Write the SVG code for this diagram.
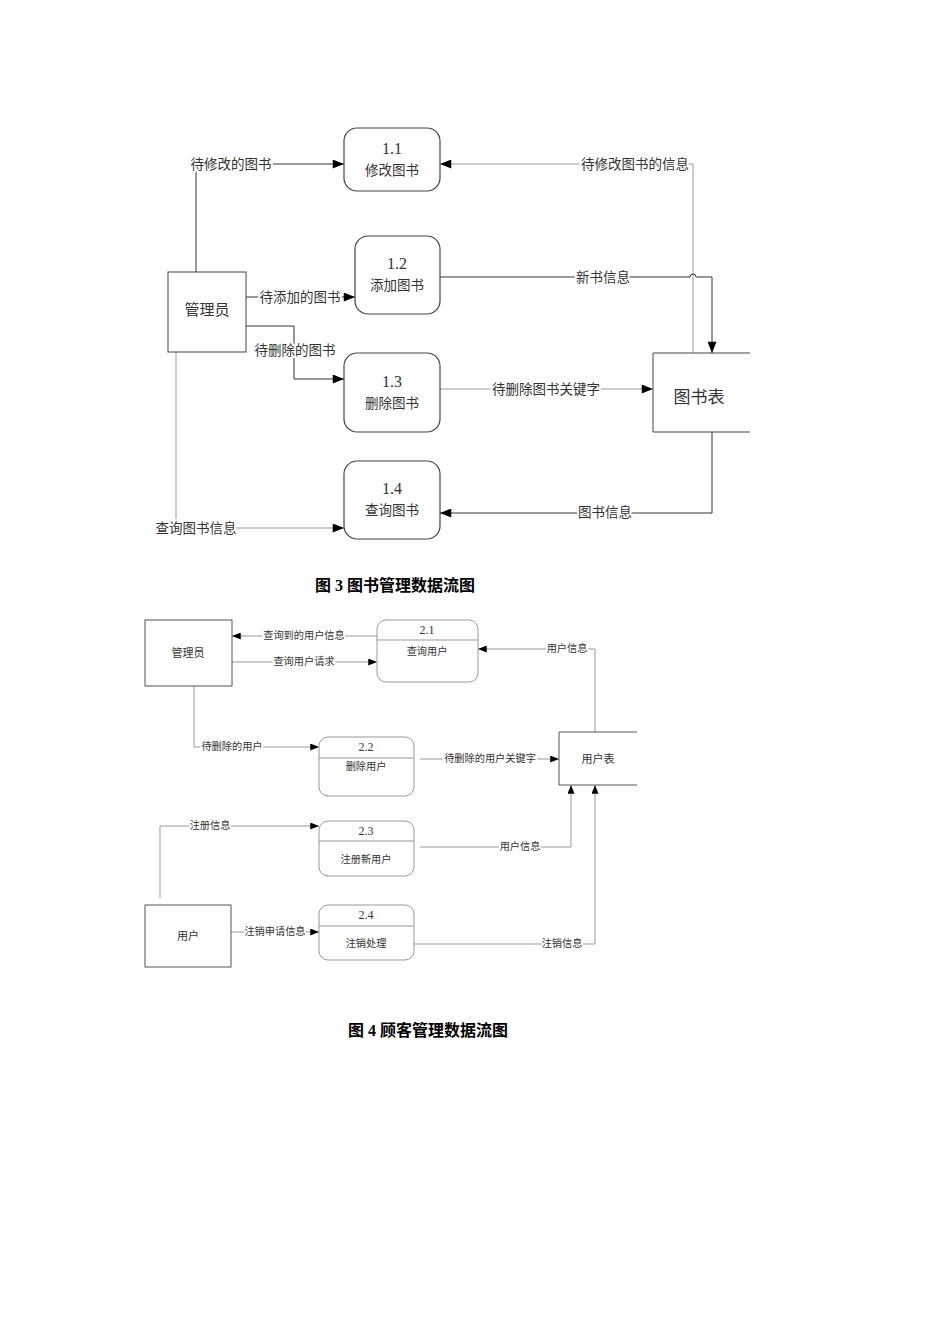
<svg xmlns="http://www.w3.org/2000/svg" width="950" height="1344" viewBox="0 0 950 1344">
<style>
text{font-family:"Liberation Serif","Noto Sans CJK SC",serif;fill:#333;text-anchor:middle;dominant-baseline:central}
.l1{font-size:13.5px}
.n1{font-size:16px}
.l2{font-size:10.2px}
.n2{font-size:12px}
.lab{stroke:#fff;stroke-width:4px;paint-order:stroke;stroke-linejoin:round}
.cap{font-size:16px;font-weight:bold;fill:#000}
.p1{fill:#fff;stroke:#444;stroke-width:1.2}
.e1{fill:#fff;stroke:#444;stroke-width:1}
.p2{fill:#fff;stroke:#999;stroke-width:1}
.e2{fill:#fff;stroke:#555;stroke-width:1}
.c1{fill:none;stroke:#333;stroke-width:1}
.g1{fill:none;stroke:#999;stroke-width:1}
.c2{fill:none;stroke:#999;stroke-width:1}
</style>
<defs>
<marker id="ah" viewBox="0 0 10 8" refX="10" refY="4" markerWidth="12" markerHeight="9" markerUnits="userSpaceOnUse" orient="auto">
<path d="M0,0 L10,4 L0,8 z" fill="#000"/>
</marker>
<marker id="ah2" viewBox="0 0 10 8" refX="10" refY="4" markerWidth="9" markerHeight="7" markerUnits="userSpaceOnUse" orient="auto">
<path d="M0,0 L10,4 L0,8 z" fill="#000"/>
</marker>
</defs>
<rect width="950" height="1344" fill="#fff"/>

<!-- Diagram 1 connectors -->
<g id="connectors1">
<path class="c1" d="M196,272 V164 H344" marker-end="url(#ah)"/>
<text class="l1 lab" x="231" y="164">待修改的图书</text>
<path class="g1" d="M693,353 V164 H440" marker-end="url(#ah)"/>
<text class="l1 lab" x="635" y="164">待修改图书的信息</text>
<path class="c1" d="M440,277 H690 A3,3 0 0 1 696,277 H712 V353" marker-end="url(#ah)"/>
<text class="l1 lab" x="603" y="277">新书信息</text>
<path class="c1" d="M246,297 H355" marker-end="url(#ah)"/>
<text class="l1 lab" x="300" y="297">待添加的图书</text>
<path class="c1" d="M246,326 H294 V379 H344" marker-end="url(#ah)"/>
<text class="l1 lab" x="295" y="350">待删除的图书</text>
<path class="g1" d="M440,389 H653" marker-end="url(#ah)"/>
<text class="l1 lab" x="546" y="389">待删除图书关键字</text>
<path class="c1" d="M712,432 V513 H440" marker-end="url(#ah)"/>
<text class="l1 lab" x="605" y="512">图书信息</text>
<path class="g1" d="M176,352 V528 H344" marker-end="url(#ah)"/>
<text class="l1 lab" x="196" y="528">查询图书信息</text>
</g>

<!-- Diagram 1 nodes -->
<g id="p11">
<rect class="p1" x="344" y="128" width="96" height="63" rx="13"/>
<text class="n1" x="392" y="148">1.1</text>
<text class="l1" x="392" y="170">修改图书</text>
</g>
<g id="p12">
<rect class="p1" x="355" y="236" width="85" height="78" rx="13"/>
<text class="n1" x="397" y="263">1.2</text>
<text class="l1" x="397" y="285">添加图书</text>
</g>
<g id="p13">
<rect class="p1" x="344" y="353" width="96" height="79" rx="13"/>
<text class="n1" x="392" y="381">1.3</text>
<text class="l1" x="392" y="403">删除图书</text>
</g>
<g id="p14">
<rect class="p1" x="344" y="461" width="96" height="78" rx="13"/>
<text class="n1" x="392" y="488">1.4</text>
<text class="l1" x="392" y="510">查询图书</text>
</g>
<g id="admin1">
<rect class="e1" x="168" y="272" width="78" height="80"/>
<text x="207" y="310" style="font-size:15px">管理员</text>
</g>
<g id="booktable">
<path class="e1" d="M750,353 H653 V432 H750"/>
<text x="699" y="397" style="font-size:17px">图书表</text>
</g>
<text class="cap" x="395" y="585">图 3 图书管理数据流图</text>

<!-- Diagram 2 connectors -->
<g id="connectors2">
<path class="c2" d="M377,636 H232" marker-end="url(#ah2)"/>
<text class="l2 lab" x="304" y="635">查询到的用户信息</text>
<path class="c2" d="M232,662 H377" marker-end="url(#ah2)"/>
<text class="l2 lab" x="304" y="661">查询用户请求</text>
<path class="c2" d="M595,732 V649 H478" marker-end="url(#ah2)"/>
<text class="l2 lab" x="567" y="648">用户信息</text>
<path class="c2" d="M194,686 V747 H319" marker-end="url(#ah2)"/>
<text class="l2 lab" x="232" y="746">待删除的用户</text>
<path class="c2" d="M420,759 H559" marker-end="url(#ah2)"/>
<text class="l2 lab" x="490" y="758">待删除的用户关键字</text>
<path class="c2" d="M160,898 V826 H319" marker-end="url(#ah2)"/>
<text class="l2 lab" x="210" y="825">注册信息</text>
<path class="c2" d="M420,847 H571 V785" marker-end="url(#ah2)"/>
<text class="l2 lab" x="520" y="846">用户信息</text>
<path class="c2" d="M231,932 H319" marker-end="url(#ah2)"/>
<text class="l2 lab" x="275" y="931">注销申请信息</text>
<path class="c2" d="M414,944 H595 V785" marker-end="url(#ah2)"/>
<text class="l2 lab" x="562" y="943">注销信息</text>
</g>

<!-- Diagram 2 nodes -->
<g id="admin2">
<rect class="e2" x="145" y="620" width="87" height="66"/>
<text class="l2" x="188" y="653" style="font-size:11px">管理员</text>
</g>
<g id="p21">
<rect class="p2" x="377" y="620" width="101" height="62" rx="9"/>
<line x1="377" y1="640" x2="478" y2="640" stroke="#999"/>
<text class="n2" x="427" y="630">2.1</text>
<text class="l2" x="427" y="651">查询用户</text>
</g>
<g id="p22">
<rect class="p2" x="319" y="737" width="95" height="59" rx="9"/>
<line x1="319" y1="758" x2="414" y2="758" stroke="#999"/>
<text class="n2" x="366" y="747">2.2</text>
<text class="l2" x="366" y="766">删除用户</text>
</g>
<g id="p23">
<rect class="p2" x="319" y="821" width="95" height="55" rx="9"/>
<line x1="319" y1="841" x2="414" y2="841" stroke="#999"/>
<text class="n2" x="366" y="831">2.3</text>
<text class="l2" x="366" y="859">注册新用户</text>
</g>
<g id="p24">
<rect class="p2" x="319" y="905" width="95" height="55" rx="9"/>
<line x1="319" y1="926" x2="414" y2="926" stroke="#999"/>
<text class="n2" x="366" y="915">2.4</text>
<text class="l2" x="366" y="943">注销处理</text>
</g>
<g id="usertable">
<path class="e2" d="M637,732 H559 V785 H637"/>
<text class="l2" x="598" y="759" style="font-size:11px">用户表</text>
</g>
<g id="user">
<rect class="e2" x="145" y="905" width="86" height="62"/>
<text class="l2" x="188" y="936" style="font-size:11px">用户</text>
</g>
<text class="cap" x="428" y="1030">图 4 顾客管理数据流图</text>
</svg>
